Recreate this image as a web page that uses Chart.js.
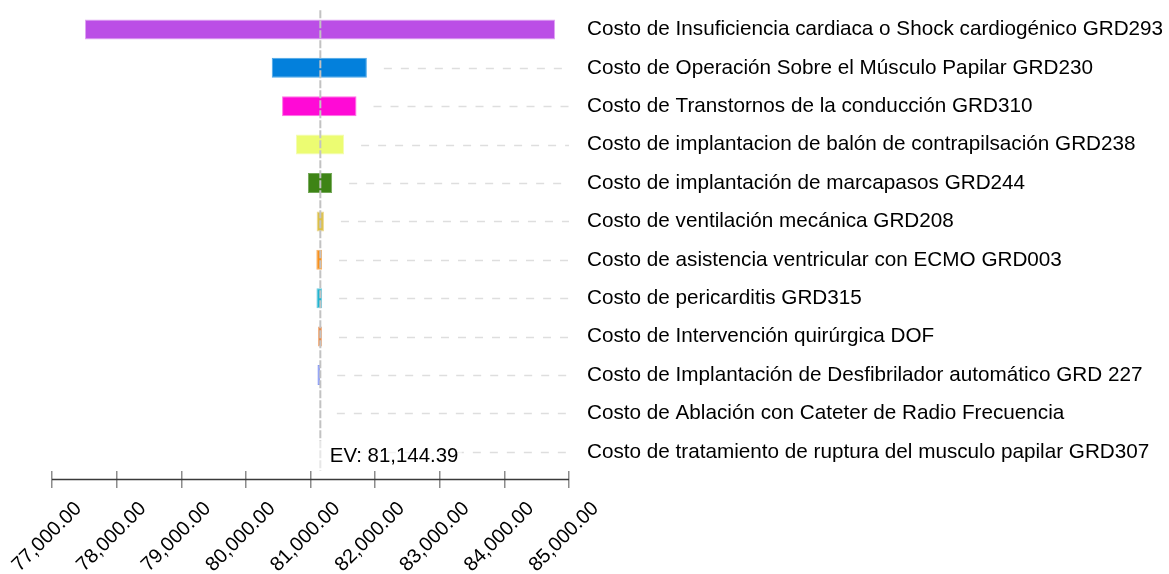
<!DOCTYPE html>
<html><head><meta charset="utf-8">
<script src="https://cdn.jsdelivr.net/npm/chart.js@4/dist/chart.umd.min.js"></script>
<style>html,body{margin:0;padding:0;background:#fff;}#wrap{width:1169px;height:574px;position:relative;}canvas{display:block;}</style>
</head><body><div id="wrap"><canvas id="c" width="1169" height="574"></canvas></div>
<script>
const categories = [
  "Costo de Insuficiencia cardiaca o Shock cardiogénico GRD293",
  "Costo de Operación Sobre el Músculo Papilar GRD230",
  "Costo de Transtornos de la conducción GRD310",
  "Costo de implantacion de balón de contrapilsación GRD238",
  "Costo de implantación de marcapasos GRD244",
  "Costo de ventilación mecánica GRD208",
  "Costo de asistencia ventricular con ECMO GRD003",
  "Costo de pericarditis GRD315",
  "Costo de Intervención quirúrgica DOF",
  "Costo de Implantación de Desfibrilador automático GRD 227",
  "Costo de Ablación con Cateter de Radio Frecuencia",
  "Costo de tratamiento de ruptura del musculo papilar GRD307"
];
const lowValues  = [77510, 80400, 80560, 80775, 80960, 81095, 81090, 81092, 81116, 81108, null, null];
const highValues = [84785, 81872, 81712, 81520, 81335, 81208, 81178, 81180, 81178, 81150, null, null];
const barColors = ["#bb4ee6", "#0380dc", "#ff0ad6", "#ecfc72", "#3e8416", "#dcc048", "#f7901e", "#22b4d0", "#e88c4c", "#6f84f2", "#cccccc", "#cccccc"];
const barBorders = ["#e0a2f3", "#4aa6e8", "#ff72e4", "#f4fdb0", "#74a858", "#ecd88e", "#f9b466", "#6ccce0", "#f0b48a", "#8797f2", "#cccccc", "#cccccc"];
const expectedValue = 81144.39;
const xTickValues = [77000, 78000, 79000, 80000, 81000, 82000, 83000, 84000, 85000];

const FONT = '"Liberation Sans", Arial, sans-serif';
const fmt = v => v.toLocaleString('en-US', {minimumFractionDigits: 2, maximumFractionDigits: 2});

const ranges = categories.map((c, i) => (lowValues[i] === null ? null : [lowValues[i], highValues[i]]));

const overlay = {
  id: 'overlay',
  beforeDatasetsDraw(chart) {
    const {ctx, chartArea: a, scales: {x, y}} = chart;
    ctx.save();
    ctx.strokeStyle = '#dedede';
    ctx.lineWidth = 1.5;
    ctx.setLineDash([8, 9]);
    categories.forEach((c, i) => {
      const end = Math.max(highValues[i] === null ? expectedValue : highValues[i], expectedValue);
      const x0 = x.getPixelForValue(end) + 17;
      const yy = Math.round(y.getPixelForValue(i)) + 0.5;
      if (x0 < a.right - 4) {
        ctx.beginPath(); ctx.moveTo(x0, yy); ctx.lineTo(a.right, yy); ctx.stroke();
      }
    });
    ctx.restore();
  },
  afterDatasetsDraw(chart) {
    const {ctx, chartArea: a, scales: {x, y}} = chart;
    const ex = x.getPixelForValue(expectedValue);
    ctx.save();
    // EV line
    ctx.strokeStyle = '#c2c2c2';
    ctx.lineWidth = 2;
    ctx.setLineDash([8, 2]);
    ctx.beginPath(); ctx.moveTo(ex + 0.5, a.top); ctx.lineTo(ex + 0.5, a.bottom); ctx.stroke();
    ctx.setLineDash([]);
    // EV label
    const ly = y.getPixelForValue(categories.length - 1);
    ctx.fillStyle = 'rgba(255,255,255,0.6)';
    ctx.fillRect(ex - 2, ly - 11, 144, 30);
    ctx.fillStyle = '#000';
    ctx.font = '20.4px ' + FONT;
    ctx.textAlign = 'left';
    ctx.textBaseline = 'alphabetic';
    ctx.fillText('EV: ' + fmt(expectedValue), ex + 10, ly + 10.5);
    // axis line
    const ay = a.bottom + 8.5;
    ctx.strokeStyle = '#3a3a3a';
    ctx.lineWidth = 1.5;
    ctx.beginPath(); ctx.moveTo(x.getPixelForValue(xTickValues[0]), ay); ctx.lineTo(x.getPixelForValue(xTickValues[xTickValues.length - 1]), ay); ctx.stroke();
    // tick labels
    ctx.fillStyle = '#000';
    ctx.font = '20px ' + FONT;
    ctx.textAlign = 'center';
    ctx.textBaseline = 'middle';
    xTickValues.forEach(v => {
      const px = x.getPixelForValue(v);
      ctx.save();
      ctx.translate(px - 5, a.bottom + 66);
      ctx.rotate(-Math.PI / 4);
      ctx.fillText(fmt(v), 0, 0);
      ctx.restore();
    });
    ctx.restore();
  }
};

new Chart(document.getElementById('c'), {
  type: 'bar',
  data: {
    labels: categories,
    datasets: [{
      data: ranges,
      backgroundColor: barColors,
      borderColor: barBorders,
      borderWidth: 1,
      borderSkipped: false,
      barPercentage: 0.52,
      categoryPercentage: 1.0
    }]
  },
  options: {
    indexAxis: 'y',
    responsive: false,
    animation: false,
    devicePixelRatio: 1,
    layout: {padding: {top: 10.2, left: 52, right: 0, bottom: 0}},
    plugins: {legend: {display: false}, tooltip: {enabled: false}},
    scales: {
      x: {
        type: 'linear', position: 'bottom', min: 77000, max: 85000,
        afterBuildTicks: s => { s.ticks = xTickValues.map(v => ({value: v})); },
        afterFit: s => { s.height = 574 - 471; s.paddingLeft = 0; s.paddingRight = 0; },
        ticks: {display: false},
        grid: {display: true, drawOnChartArea: false, drawTicks: true, tickLength: 17, color: '#8c8c8c', lineWidth: 1.5},
        border: {display: false}
      },
      y: {
        type: 'category', position: 'right',
        afterFit: s => { s.width = 1169 - 569; s.paddingTop = 0; s.paddingBottom = 0; },
        grid: {display: false, drawTicks: false},
        border: {display: false},
        ticks: {padding: 18, color: '#000', font: {family: FONT, size: 20.7}}
      }
    }
  },
  plugins: [overlay]
});
</script>
</body></html>
